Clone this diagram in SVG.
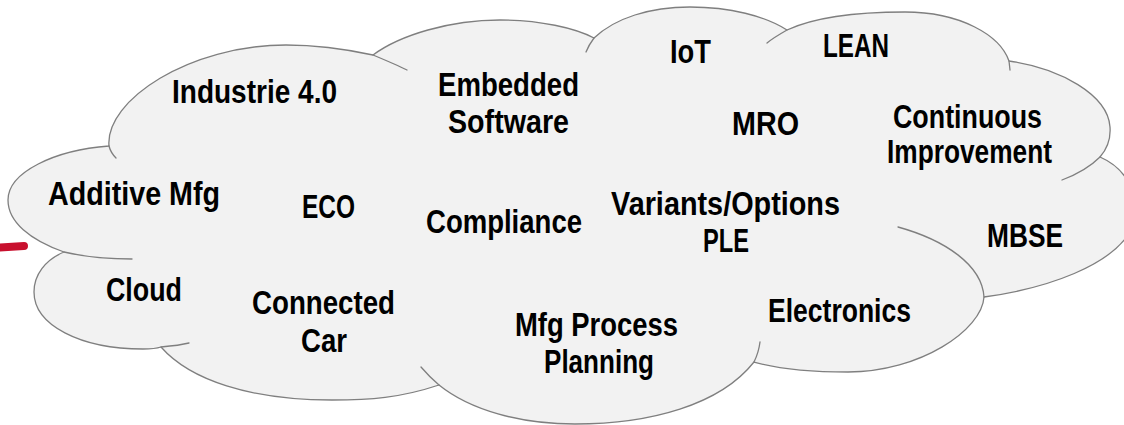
<svg xmlns="http://www.w3.org/2000/svg" width="1124" height="425" viewBox="0 0 1124 425">
<style>
.cloud{fill:#F2F2F2;stroke:#7F7F7F;stroke-width:1.3;stroke-linejoin:round}
.crease{fill:none;stroke:#7F7F7F;stroke-width:1.3;stroke-linecap:round}
.lbl{font-family:"Liberation Sans",Arial,sans-serif;font-weight:bold;font-size:33px;fill:#000}
</style>
<rect width="1124" height="425" fill="#FFFFFF"/>
<g id="cloud">
<path class="cloud" d="M109,146 C105,100 190,45 286,45 C320,45 350,50 373,55 C400,35 450,20 500,20 C540,20 575,28 594,38 C615,18 650,7 690,7 C730,7 765,16 787,30 C815,17 860,12 905,12 C960,12 1000,35 1009,61 C1060,68 1108,95 1110,127 C1111,140 1106,150 1100,157 C1130,170 1145,205 1130,232 C1110,265 1050,288 984,297 C982,330 920,372 848,372 C810,372 775,368 754,362 C720,405 650,424 575,424 C520,424 470,410 439,385 C400,398 370,400 332,400 C250,400 190,380 161,347 C155,349 150,349 143,349 C80,349 34,325 34,292 C34,275 45,260 64,252 C30,240 8,222 8,200 C8,172 55,150 109,146 Z"/>
<path class="crease" d="M109,146 C110,150 113,155 116,158"/>
<path class="crease" d="M373,55 C385,60 397,65 407,70"/>
<path class="crease" d="M586,52 C588,47 591,42 594,38"/>
<path class="crease" d="M767,43 C773,38 780,34 787,30"/>
<path class="crease" d="M1009,61 L1010,70"/>
<path class="crease" d="M1100,157 C1090,167 1078,174 1062,180"/>
<path class="crease" d="M898,227 C945,240 982,265 984,297"/>
<path class="crease" d="M760,342 C759,350 757,356 754,362"/>
<path class="crease" d="M421,367 C427,374 433,380 439,385"/>
<path class="crease" d="M161,347 C172,346 181,345 189,343"/>
<path class="crease" d="M64,252 C85,257 108,259 132,259"/>
</g>
<g id="red-mark">
<path d="M0,243.5 L24,242 A4,4 0 0 1 24,250 L0,251.5 Z" fill="#C8102E"/>
</g>
<g id="label-industrie"><text class="lbl" x="172" y="103" textLength="165" lengthAdjust="spacingAndGlyphs">Industrie 4.0</text></g>
<g id="label-embedded"><text class="lbl" x="438" y="96" textLength="141" lengthAdjust="spacingAndGlyphs">Embedded</text><text class="lbl" x="448" y="133" textLength="121" lengthAdjust="spacingAndGlyphs">Software</text></g>
<g id="label-iot"><text class="lbl" x="670" y="63" textLength="41" lengthAdjust="spacingAndGlyphs">IoT</text></g>
<g id="label-lean"><text class="lbl" x="823" y="57" textLength="66" lengthAdjust="spacingAndGlyphs">LEAN</text></g>
<g id="label-mro"><text class="lbl" x="732" y="135" textLength="67" lengthAdjust="spacingAndGlyphs">MRO</text></g>
<g id="label-continuous"><text class="lbl" x="893" y="128" textLength="149" lengthAdjust="spacingAndGlyphs">Continuous</text><text class="lbl" x="887" y="163" textLength="165" lengthAdjust="spacingAndGlyphs">Improvement</text></g>
<g id="label-additive"><text class="lbl" x="48" y="205" textLength="172" lengthAdjust="spacingAndGlyphs">Additive Mfg</text></g>
<g id="label-eco"><text class="lbl" x="302" y="218" textLength="53" lengthAdjust="spacingAndGlyphs">ECO</text></g>
<g id="label-compliance"><text class="lbl" x="426" y="233" textLength="156" lengthAdjust="spacingAndGlyphs">Compliance</text></g>
<g id="label-variants"><text class="lbl" x="611" y="215" textLength="229" lengthAdjust="spacingAndGlyphs">Variants/Options</text><text class="lbl" x="703" y="252" textLength="46" lengthAdjust="spacingAndGlyphs">PLE</text></g>
<g id="label-mbse"><text class="lbl" x="987" y="247" textLength="76" lengthAdjust="spacingAndGlyphs">MBSE</text></g>
<g id="label-cloud"><text class="lbl" x="106" y="301" textLength="76" lengthAdjust="spacingAndGlyphs">Cloud</text></g>
<g id="label-connected"><text class="lbl" x="252" y="314" textLength="143" lengthAdjust="spacingAndGlyphs">Connected</text><text class="lbl" x="301" y="352" textLength="46" lengthAdjust="spacingAndGlyphs">Car</text></g>
<g id="label-mfg"><text class="lbl" x="515" y="336" textLength="163" lengthAdjust="spacingAndGlyphs">Mfg Process</text><text class="lbl" x="544" y="373" textLength="110" lengthAdjust="spacingAndGlyphs">Planning</text></g>
<g id="label-electronics"><text class="lbl" x="768" y="322" textLength="143" lengthAdjust="spacingAndGlyphs">Electronics</text></g>
</svg>
